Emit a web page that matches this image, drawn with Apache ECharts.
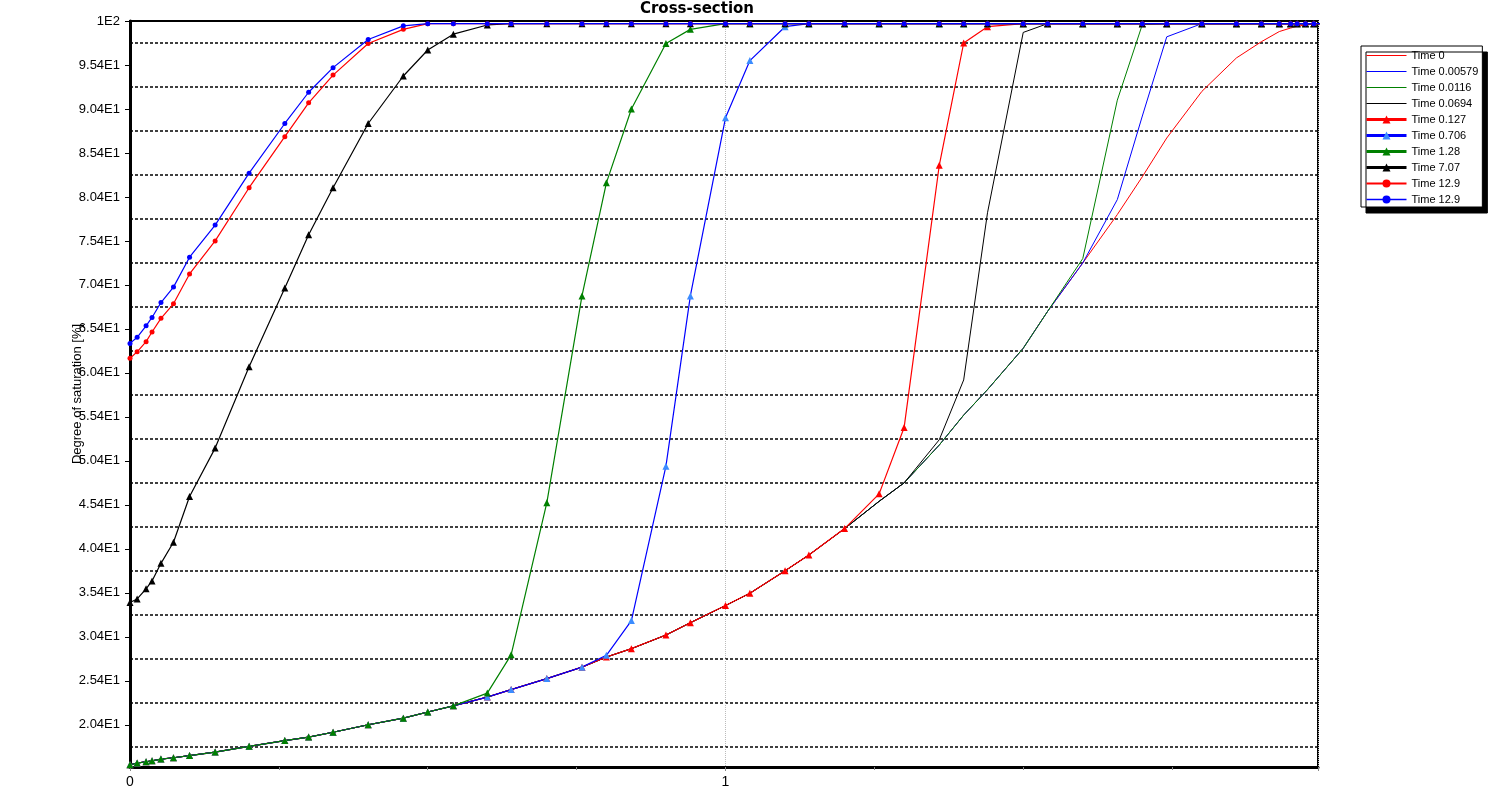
<!DOCTYPE html>
<html>
<head>
<meta charset="utf-8">
<title>Cross-section</title>
<script src="https://cdn.jsdelivr.net/npm/echarts@6/dist/echarts.min.js"></script>
<style>
  html, body { margin: 0; padding: 0; background: #fff; }
  #chart { width: 1498px; height: 791px; }
</style>
</head>
<body>
<div id="chart"></div>
<script>
// mesh nodes along the section
const xNodes = [0, 0.012, 0.027, 0.037, 0.052, 0.073, 0.1, 0.143, 0.2, 0.26,
  0.3, 0.341, 0.4, 0.459, 0.5, 0.543, 0.6, 0.64, 0.7, 0.759,
  0.8, 0.842, 0.9, 0.941, 1.0, 1.041, 1.1, 1.14, 1.2, 1.258,
  1.3, 1.359, 1.4, 1.44, 1.5, 1.541, 1.6, 1.658, 1.7, 1.741,
  1.8, 1.858, 1.9, 1.93, 1.949, 1.96, 1.974, 1.988, 2.0];

// degree of saturation [%] per time step
const satT0 = [15.85, 16.05, 16.2, 16.3, 16.5, 16.65, 16.9, 17.3, 17.95, 18.6,
  19.0, 19.55, 20.4, 21.15, 21.85, 22.55, 23.55, 24.4, 25.65, 26.95,
  28.1, 29.05, 30.6, 32.0, 33.95, 35.35, 37.9, 39.7, 42.7, 45.8,
  47.9, 52.2, 55.6, 58.5, 63.2, 67.4, 72.9, 78.4, 82.7, 87.1,
  92.4, 96.2, 98.05, 99.2, 99.6, 99.8, 99.95, 100.1, 100.1];
const satT00579 = [15.85, 16.05, 16.2, 16.3, 16.5, 16.65, 16.9, 17.3, 17.95, 18.6,
  19.0, 19.55, 20.4, 21.15, 21.85, 22.55, 23.55, 24.4, 25.65, 26.95,
  28.1, 29.05, 30.6, 32.0, 33.95, 35.35, 37.9, 39.7, 42.7, 45.8,
  47.9, 52.2, 55.6, 58.5, 63.2, 67.4, 72.9, 80.1, 89.6, 98.6,
  100.1, 100.1, 100.1, 100.1, 100.1, 100.1, 100.1, 100.1, 100.1];
const satT0116 = [15.85, 16.05, 16.2, 16.3, 16.5, 16.65, 16.9, 17.3, 17.95, 18.6,
  19.0, 19.55, 20.4, 21.15, 21.85, 22.55, 23.55, 24.4, 25.65, 26.95,
  28.1, 29.05, 30.6, 32.0, 33.95, 35.35, 37.9, 39.7, 42.7, 45.8,
  47.9, 52.2, 55.6, 58.5, 63.2, 67.4, 73.4, 91.4, 100.0, 100.1,
  100.1, 100.1, 100.1, 100.1, 100.1, 100.1, 100.1, 100.1, 100.1];
const satT0694 = [15.85, 16.05, 16.2, 16.3, 16.5, 16.65, 16.9, 17.3, 17.95, 18.6,
  19.0, 19.55, 20.4, 21.15, 21.85, 22.55, 23.55, 24.4, 25.65, 26.95,
  28.1, 29.05, 30.6, 32.0, 33.95, 35.35, 37.9, 39.7, 42.7, 45.8,
  47.9, 52.8, 59.6, 78.6, 99.1, 100.1, 100.1, 100.1, 100.1, 100.1,
  100.1, 100.1, 100.1, 100.1, 100.1, 100.1, 100.1, 100.1, 100.1];
const satT0127 = [15.85, 16.05, 16.2, 16.3, 16.5, 16.65, 16.9, 17.3, 17.95, 18.6,
  19.0, 19.55, 20.4, 21.15, 21.85, 22.55, 23.55, 24.4, 25.65, 26.95,
  28.1, 29.05, 30.6, 32.0, 33.95, 35.35, 37.9, 39.7, 42.7, 46.65,
  54.2, 84.0, 97.9, 99.75, 100.1, 100.1, 100.1, 100.1, 100.1, 100.1,
  100.1, 100.1, 100.1, 100.1, 100.1, 100.1, 100.1, 100.1, 100.1];
const satT0706 = [15.85, 16.05, 16.2, 16.3, 16.5, 16.65, 16.9, 17.3, 17.95, 18.6,
  19.0, 19.55, 20.4, 21.15, 21.85, 22.55, 23.55, 24.4, 25.65, 26.95,
  28.3, 32.25, 49.8, 69.15, 89.4, 95.9, 99.75, 100.1, 100.1, 100.1,
  100.1, 100.1, 100.1, 100.1, 100.1, 100.1, 100.1, 100.1, 100.1, 100.1,
  100.1, 100.1, 100.1, 100.1, 100.1, 100.1, 100.1, 100.1, 100.1];
const satT128 = [15.85, 16.05, 16.2, 16.3, 16.5, 16.65, 16.9, 17.3, 17.95, 18.6,
  19.0, 19.55, 20.4, 21.15, 21.85, 22.55, 24.0, 28.35, 45.65, 69.15,
  82.0, 90.4, 97.85, 99.45, 100.1, 100.1, 100.1, 100.1, 100.1, 100.1,
  100.1, 100.1, 100.1, 100.1, 100.1, 100.1, 100.1, 100.1, 100.1, 100.1,
  100.1, 100.1, 100.1, 100.1, 100.1, 100.1, 100.1, 100.1, 100.1];
const satT707 = [34.3, 34.7, 35.85, 36.75, 38.75, 41.15, 46.35, 51.85, 61.1, 70.05,
  76.1, 81.45, 88.75, 94.15, 97.1, 98.9, 99.95, 100.1, 100.1, 100.1,
  100.1, 100.1, 100.1, 100.1, 100.1, 100.1, 100.1, 100.1, 100.1, 100.1,
  100.1, 100.1, 100.1, 100.1, 100.1, 100.1, 100.1, 100.1, 100.1, 100.1,
  100.1, 100.1, 100.1, 100.1, 100.1, 100.1, 100.1, 100.1, 100.1];
const satT129a = [62.05, 62.8, 63.95, 65.05, 66.6, 68.25, 71.65, 75.4, 81.45, 87.25,
  91.1, 94.25, 97.85, 99.45, 100.1, 100.1, 100.1, 100.1, 100.1, 100.1,
  100.1, 100.1, 100.1, 100.1, 100.1, 100.1, 100.1, 100.1, 100.1, 100.1,
  100.1, 100.1, 100.1, 100.1, 100.1, 100.1, 100.1, 100.1, 100.1, 100.1,
  100.1, 100.1, 100.1, 100.1, 100.1, 100.1, 100.1, 100.1, 100.1];
const satT129b = [63.75, 64.45, 65.75, 66.7, 68.4, 70.15, 73.55, 77.2, 83.1, 88.75,
  92.3, 95.1, 98.3, 99.85, 100.1, 100.1, 100.1, 100.1, 100.1, 100.1,
  100.1, 100.1, 100.1, 100.1, 100.1, 100.1, 100.1, 100.1, 100.1, 100.1,
  100.1, 100.1, 100.1, 100.1, 100.1, 100.1, 100.1, 100.1, 100.1, 100.1,
  100.1, 100.1, 100.1, 100.1, 100.1, 100.1, 100.1, 100.1, 100.1];

// tick labels on the y axis and the dashed lines between them
const yLabelValues = [20.4, 25.4, 30.4, 35.4, 40.4, 45.4, 50.4, 55.4, 60.4,
  65.4, 70.4, 75.4, 80.4, 85.4, 90.4, 95.4, 100.4];
const yGridValues = [17.9, 22.9, 27.9, 32.9, 37.9, 42.9, 47.9, 52.9, 57.9,
  62.9, 67.9, 72.9, 77.9, 82.9, 87.9, 92.9, 97.9];
const xLabelValues = [0, 1];

function sci(v) {
  let parts = v.toExponential(2).split('e');
  let m = parts[0].replace(/\.?0+$/, '');
  return m + 'E' + parseInt(parts[1], 10);
}

function pairs(ys) {
  return xNodes.map((x, i) => [x, ys[i]]);
}

// name, values, line colour, marker colour, marker, legend line width
const defs = [
  ['Time 0', satT0, '#ff0000', '#ff0000', 'none', 1],
  ['Time 0.00579', satT00579, '#0000ff', '#0000ff', 'none', 1],
  ['Time 0.0116', satT0116, '#008000', '#008000', 'none', 1],
  ['Time 0.0694', satT0694, '#000000', '#000000', 'none', 1],
  ['Time 0.127', satT0127, '#ff0000', '#ff0000', 'triangle', 3],
  ['Time 0.706', satT0706, '#0000ff', '#3b8cff', 'triangle', 3],
  ['Time 1.28', satT128, '#008000', '#008000', 'triangle', 3],
  ['Time 7.07', satT707, '#000000', '#000000', 'triangle', 3],
  ['Time 12.9', satT129a, '#ff0000', '#ff0000', 'circle', 2],
  ['Time 12.9 ', satT129b, '#0000ff', '#0000ff', 'circle', 1.5]
];

const series = defs.map(d => ({
  name: d[0],
  type: 'line',
  data: pairs(d[1]),
  symbol: d[4],
  symbolSize: d[4] === 'triangle' ? 7 : 5,
  showSymbol: d[4] !== 'none',
  lineStyle: { color: d[2], width: d[4] === 'none' ? 1 : 1.2 },
  itemStyle: { color: d[3] },
  emphasis: { disabled: true },
  animation: false
}));

// thin curves have no marker in the legend either
const legendItems = defs.map(d => ({
  name: d[0],
  lineStyle: { color: d[2], width: d[5] },
  itemStyle: d[4] === 'none' ? { color: d[3], opacity: 0 } : { color: d[3] }
}));

let myChart = echarts.init(document.getElementById('chart'));
let option = {
  backgroundColor: '#fff',
  animation: false,
  title: {
    text: 'Cross-section',
    left: 692,
    top: -3,
    textAlign: 'center',
    textStyle: { fontFamily: 'DejaVu Sans', fontWeight: 'bold', fontSize: 15, color: '#000' }
  },
  legend: {
    orient: 'vertical',
    left: 1361,
    top: 46,
    padding: [4, 4, 2, 4],
    itemGap: 5,
    itemWidth: 40,
    itemHeight: 10,
    backgroundColor: '#fff',
    borderColor: '#000',
    borderWidth: 1,
    shadowColor: '#000',
    shadowBlur: 0,
    shadowOffsetX: 5,
    shadowOffsetY: 6,
    selectedMode: false,
    textStyle: { fontFamily: 'Liberation Sans', fontSize: 11, color: '#000' },
    data: legendItems
  },
  grid: {
    left: 130,
    right: 180,
    top: 21,
    bottom: 24,
    show: true,
    borderColor: '#000',
    borderWidth: 2,
    containLabel: false
  },
  xAxis: {
    type: 'value',
    min: 0,
    max: 1.995,
    interval: 1,
    axisLine: { onZero: false, lineStyle: { color: '#000', width: 3 } },
    axisTick: { show: true, length: 4, lineStyle: { color: '#888' } },
    minorTick: { show: true, splitNumber: 4, length: 3, lineStyle: { color: '#888' } },
    axisLabel: {
      showMaxLabel: false,
      margin: 8,
      fontFamily: 'Liberation Sans',
      fontSize: 14,
      color: '#000',
      formatter: v => (xLabelValues.indexOf(v) >= 0 ? String(v) : '')
    },
    splitLine: { show: true, lineStyle: { color: '#bbbbbb', type: 'dotted', width: 1 } }
  },
  yAxis: [
    {
      type: 'value',
      min: 15.6,
      max: 100.4,
      name: 'Degree of saturation [%]',
      nameLocation: 'middle',
      nameGap: 46,
      nameMoveOverlap: false,
      nameTextStyle: { fontFamily: 'Liberation Sans', fontSize: 13, color: '#000' },
      axisLine: { show: true, onZero: false, lineStyle: { color: '#000', width: 3 } },
      axisTick: { show: true, length: 5, customValues: yLabelValues, lineStyle: { color: '#000' } },
      axisLabel: {
        customValues: yLabelValues,
        margin: 10,
        fontFamily: 'Liberation Sans',
        fontSize: 13,
        color: '#000',
        formatter: v => sci(v)
      },
      splitLine: { show: false }
    },
    {
      type: 'value',
      min: 15.6,
      max: 100.4,
      axisLine: { show: false },
      axisTick: { show: false, customValues: yGridValues },
      axisLabel: { show: false },
      splitLine: { show: true, lineStyle: { color: '#000', type: [3, 2], width: 1.5 } }
    }
  ],
  series: series
};
myChart.setOption(option);
</script>
</body>
</html>
